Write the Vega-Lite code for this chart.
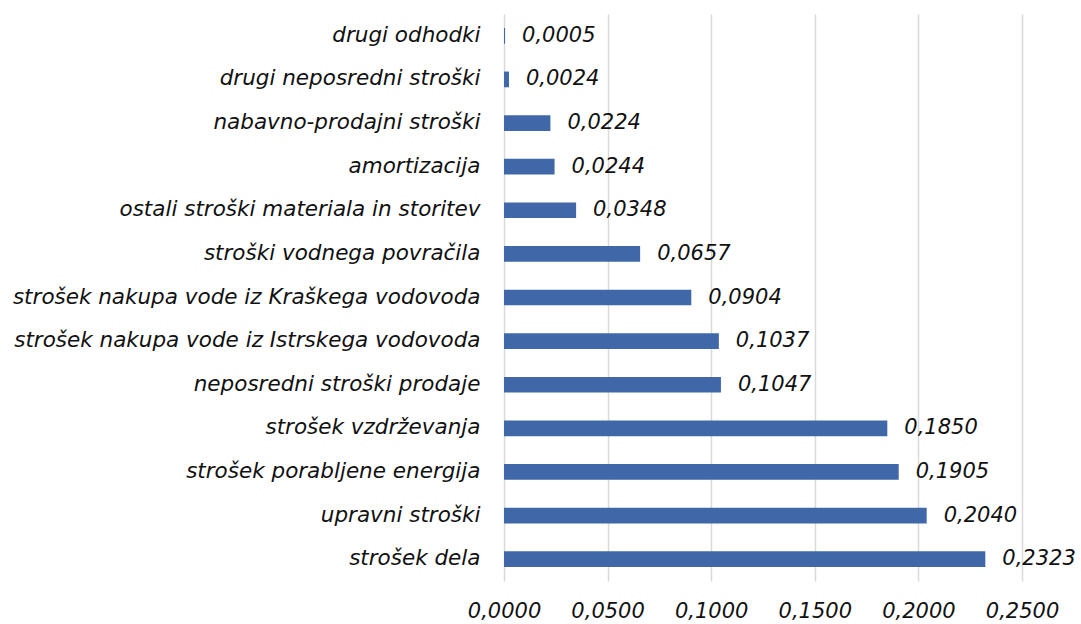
{
  "$schema": "https://vega.github.io/schema/vega-lite/v6.json",
  "width": 518,
  "height": 567,
  "autosize": {"type": "none"},
  "padding": {"left": 504, "top": 14, "right": 59, "bottom": 43},
  "background": "white",
  "config": {
    "locale": {"number": {"decimal": ",", "thousands": ".", "grouping": [3], "currency": ["", " €"]}},
    "view": {"stroke": null},
    "font": "DejaVu Sans"
  },
  "data": {
    "values": [
      {"kategorija": "drugi odhodki", "vrednost": 0.0005},
      {"kategorija": "drugi neposredni stroški", "vrednost": 0.0024},
      {"kategorija": "nabavno-prodajni stroški", "vrednost": 0.0224},
      {"kategorija": "amortizacija", "vrednost": 0.0244},
      {"kategorija": "ostali stroški materiala in storitev", "vrednost": 0.0348},
      {"kategorija": "stroški vodnega povračila", "vrednost": 0.0657},
      {"kategorija": "strošek nakupa vode iz Kraškega vodovoda", "vrednost": 0.0904},
      {"kategorija": "strošek nakupa vode iz Istrskega vodovoda", "vrednost": 0.1037},
      {"kategorija": "neposredni stroški prodaje", "vrednost": 0.1047},
      {"kategorija": "strošek vzdrževanja", "vrednost": 0.185},
      {"kategorija": "strošek porabljene energija", "vrednost": 0.1905},
      {"kategorija": "upravni stroški", "vrednost": 0.204},
      {"kategorija": "strošek dela", "vrednost": 0.2323}
    ]
  },
  "encoding": {
    "y": {
      "field": "kategorija",
      "type": "nominal",
      "sort": null,
      "scale": {"paddingInner": 0.64, "paddingOuter": 0.32},
      "axis": {
        "title": null,
        "ticks": false,
        "domain": false,
        "labelPadding": 24,
        "labelFontSize": 21.5,
        "labelFontStyle": "italic",
        "labelColor": "#111111",
        "labelLimit": 600
      }
    },
    "x": {
      "field": "vrednost",
      "type": "quantitative",
      "scale": {"domain": [0, 0.25], "nice": false},
      "axis": {
        "title": null,
        "values": [0, 0.05, 0.1, 0.15, 0.2, 0.25],
        "format": ".4f",
        "ticks": false,
        "domain": false,
        "grid": true,
        "gridColor": "#d9d9d9",
        "gridWidth": 1.5,
        "labelPadding": 19,
        "labelFontSize": 21,
        "labelFontStyle": "italic",
        "labelColor": "#111111",
        "labelFlush": false
      }
    }
  },
  "layer": [
    {"mark": {"type": "bar", "color": "#4068a9"}},
    {
      "mark": {"type": "text", "align": "left", "baseline": "middle", "dx": 17, "fontSize": 21, "fontStyle": "italic", "color": "#111111"},
      "encoding": {"text": {"field": "vrednost", "type": "quantitative", "format": ".4f"}}
    }
  ]
}
